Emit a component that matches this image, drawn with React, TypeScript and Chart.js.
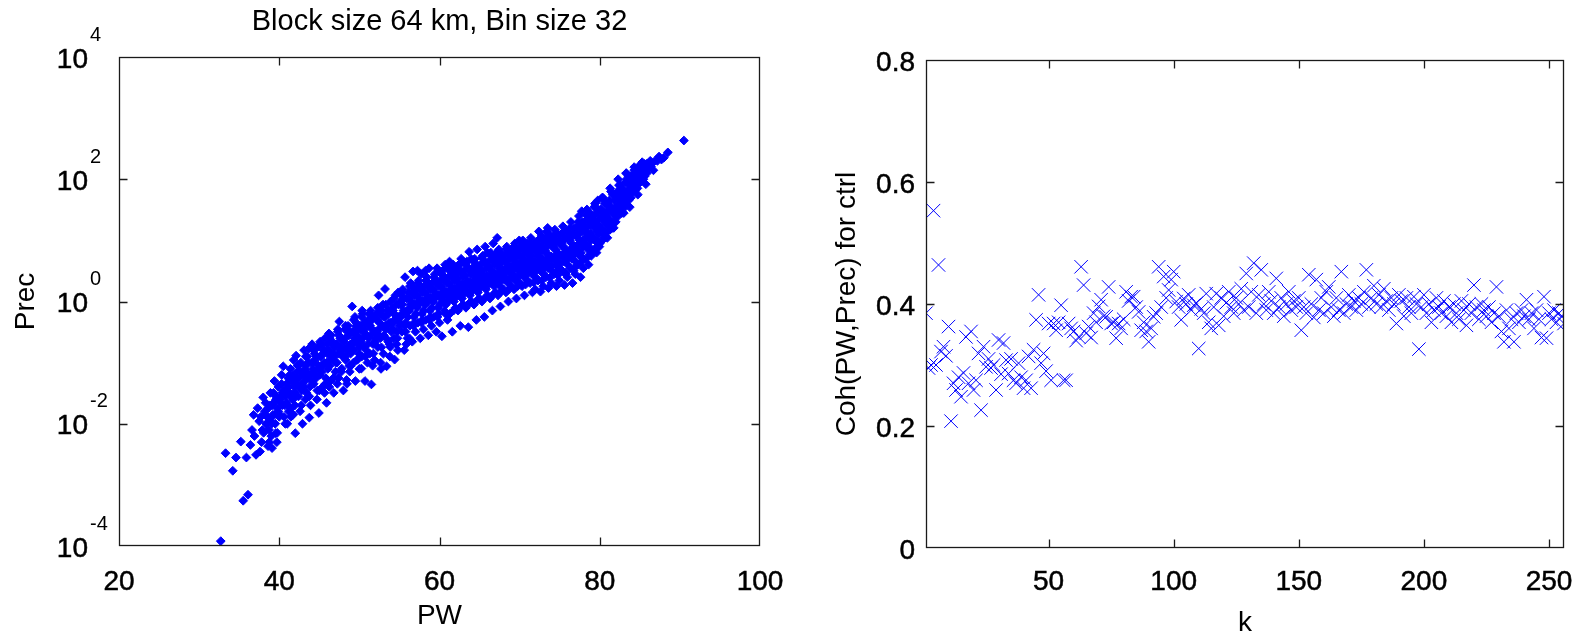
import React, { useEffect, useRef } from 'react';
import { Chart, registerables } from 'chart.js';

Chart.register(...registerables);

const FONT = '"Liberation Sans", Arial, Helvetica, sans-serif';
const BLUE = '#0000ff';
const AXIS_COLOR = '#1a1a1a';

const titleText = 'Block size 64 km, Bin size 32';
const pwTicks = [20, 40, 60, 80, 100];
const precTickValues = [1e-4, 1e-2, 1, 1e2, 1e4];
const precTickExponents = ['-4', '-2', '0', '2', '4'];
const kTicks = [50, 100, 150, 200, 250];
const cohTicks = [0, 0.2, 0.4, 0.6, 0.8];

// [PW, Prec] pairs (edges and spread of the cloud)
const scatterPoints: [number, number][] = [
  [32.7, 1.2e-4], [33.3, 3.3e-3], [34.2, 1.7e-3], [34.6, 2.8e-3], [35.2, 5.1e-3], [35.5, 5.5e-4], [36.1, 6.9e-4],
  [35.9, 2.8e-3], [36.4, 4.5e-3], [36.8, 1.4e-2], [36.6, 7.9e-3], [37.1, 3.1e-3], [36.9, 6.3e-3], [37.3, 1.8e-2],
  [37.5, 1.1e-2], [37.8, 5e-3], [37.6, 3.5e-3], [38.0, 2.7e-2], [37.9, 7.9e-3], [38.2, 1.6e-2], [37.7, 1.3e-2],
  [38.4, 1e-2], [38.6, 4.3e-3], [38.8, 2e-2], [38.5, 1.3e-2], [39.0, 6.3e-3], [38.9, 3.2e-2], [39.2, 1.4e-2], [38.7, 8e-3], [39.1, 4e-3],
  [39.4, 5e-2], [39.6, 2.8e-2], [39.5, 1e-2], [39.8, 1.8e-2], [40.0, 1.3e-2], [39.7, 5e-3], [40.1, 2.5e-2], [39.9, 4e-2], [39.3, 2.2e-2], [39.55, 7e-3],
  [40.3, 6.3e-2], [40.5, 8.7e-2], [40.4, 3.2e-2], [40.7, 2e-2], [40.9, 4.5e-2], [41.0, 1e-2], [40.6, 1.3e-2], [41.1, 5.6e-2], [40.8, 2.8e-2], [41.2, 1.6e-2], [40.2, 2.2e-2], [40.95, 3.5e-2],
  [41.3, 3.2e-2], [41.4, 7.9e-2], [41.5, 1.8e-2], [41.6, 5e-2], [41.7, 2.5e-2], [41.8, 1.1e-1], [41.9, 4e-2], [42.0, 7e-3], [41.45, 1.3e-2], [41.75, 6.3e-2], [41.95, 2e-2],
  [42.1, 1.3e-1], [42.2, 4.5e-2], [42.3, 7.1e-2], [42.4, 2.8e-2], [42.5, 5.6e-2], [42.6, 1.6e-2], [42.7, 1e-1], [42.8, 3.5e-2], [42.9, 1e-2], [42.35, 8.9e-2], [42.65, 4e-2], [42.95, 6.3e-2],
  [43.1, 1.6e-1], [43.2, 5e-2], [43.3, 8.9e-2], [43.4, 3.2e-2], [43.5, 1.26e-1], [43.6, 6.3e-2], [43.7, 1.7e-1], [43.8, 4e-2], [43.9, 2e-2], [44.0, 1e-1], [43.45, 7.1e-2], [43.75, 1.26e-2], [43.25, 2.5e-2],
  [44.1, 2e-1], [44.2, 7.9e-2], [44.3, 4.5e-2], [44.4, 1.4e-1], [44.5, 1.1e-1], [44.6, 5.6e-2], [44.7, 2.5e-2], [44.8, 1.8e-1], [44.9, 8.9e-2], [45.0, 3.5e-2], [44.35, 6.3e-2], [44.65, 1.26e-1], [44.95, 1.5e-2],
  [45.1, 2.2e-1], [45.2, 1.3e-1], [45.3, 7.1e-2], [45.4, 4e-2], [45.5, 1.6e-1], [45.6, 1e-1], [45.7, 2.5e-1], [45.8, 5.6e-2], [45.9, 2.2e-2], [46.0, 1.4e-1], [45.35, 8.9e-2], [45.65, 3.2e-2], [45.95, 2e-1],
  [46.1, 1.6e-1], [46.2, 3e-1], [46.3, 8.9e-2], [46.4, 5e-2], [46.5, 1.26e-1], [46.6, 2.2e-1], [46.7, 1.1e-1], [46.8, 3.2e-2], [46.9, 1.8e-1], [47.0, 7.1e-2], [46.45, 2.8e-1], [46.75, 1.4e-1], [46.25, 4e-2],
  [47.1, 2e-1], [47.2, 1e-1], [47.3, 3.5e-1], [47.4, 5.6e-2], [47.5, 4.7e-1], [47.6, 1.6e-1], [47.7, 2.5e-1], [47.8, 8e-2], [47.9, 1.26e-1], [48.0, 3.5e-2], [47.45, 2.8e-1], [47.75, 1.8e-1], [47.25, 4.5e-2],
  [48.1, 2.2e-1], [48.2, 3.5e-1], [48.3, 1.1e-1], [48.4, 5.2e-2], [48.5, 1.6e-1], [48.6, 4e-1], [48.7, 2.8e-1], [48.8, 7.1e-2], [48.9, 1.4e-1], [49.0, 2e-1], [48.45, 4.5e-2], [48.75, 3.2e-1], [48.25, 1.26e-1], [48.95, 8.9e-2],
  [49.1, 8.3e-1], [49.2, 3.2e-1], [49.3, 1.6e-1], [49.4, 2.5e-1], [49.5, 5e-2], [49.6, 4.5e-1], [49.7, 1.1e-1], [49.8, 2e-1], [49.9, 3.5e-1], [50.0, 7.9e-2], [49.45, 5.6e-1], [49.75, 2.8e-1], [49.25, 1e-1], [49.95, 1.4e-1],
  [50.1, 4e-1], [50.2, 2.2e-1], [50.3, 1.26e-1], [50.4, 6.3e-1], [50.5, 3.2e-1], [50.6, 1.8e-1], [50.7, 5e-2], [50.8, 4.5e-1], [50.9, 2.8e-1], [51.0, 1e-1], [50.35, 7.1e-1], [50.65, 3.5e-1], [50.25, 8e-2], [50.85, 1.6e-1],
  [51.1, 5e-1], [51.2, 2.5e-1], [51.3, 1.4e-1], [51.4, 7.1e-1], [51.5, 4.4e-2], [51.6, 3.5e-1], [51.7, 2e-1], [51.8, 5.6e-1], [51.9, 1.1e-1], [52.0, 3.2e-1], [51.35, 4e-1], [51.65, 8.9e-2], [51.25, 6.3e-1], [51.95, 2.2e-1],
  [52.1, 6.3e-1], [52.2, 3.2e-1], [52.3, 1.8e-1], [52.4, 1.26], [52.5, 4.5e-1], [52.6, 2.5e-1], [52.7, 7.9e-2], [52.8, 7.1e-1], [52.9, 4e-1], [53.0, 1.4e-1], [52.35, 5e-1], [52.65, 1e-1], [52.45, 2.8e-1], [52.95, 8.9e-1],
  [53.1, 5.6e-1], [53.2, 1.6], [53.3, 3.5e-1], [53.4, 8.7e-2], [53.5, 7.1e-1], [53.6, 2.2e-1], [53.7, 4.5e-1], [53.8, 1.26e-1], [53.9, 1], [54.0, 3.2e-1], [53.35, 2.5e-1], [53.65, 6.3e-1], [53.85, 1.8e-1], [53.25, 4e-1],
  [54.1, 7.9e-1], [54.2, 4.5e-1], [54.3, 2.5e-1], [54.4, 1.12e-1], [54.5, 1.26], [54.6, 5.6e-1], [54.7, 3.2e-1], [54.8, 1.6e-1], [54.9, 8.9e-1], [55.0, 4e-1], [54.35, 6.3e-1], [54.65, 2e-1], [54.85, 1.41], [54.25, 3.5e-1],
  [55.1, 1], [55.2, 5.6e-1], [55.3, 3.2e-1], [55.4, 1.58], [55.5, 7.1e-1], [55.6, 1.6e-1], [55.7, 2.5], [55.8, 4.5e-1], [55.9, 1.12], [56.0, 2.5e-1], [55.35, 8.9e-1], [55.65, 4e-1], [55.85, 2e-1], [55.25, 1.26],
  [56.1, 1.41], [56.2, 7.1e-1], [56.3, 4e-1], [56.4, 2], [56.5, 1], [56.6, 2.2e-1], [56.7, 3.1], [56.8, 5.6e-1], [56.9, 1.26], [57.0, 3.2e-1], [56.35, 8.9e-1], [56.65, 1.78], [56.85, 4.5e-1], [56.25, 2.5e-1],
  [57.1, 1.58], [57.2, 8e-1], [57.3, 4.5e-1], [57.4, 2.2], [57.5, 1.12], [57.6, 2.5e-1], [57.7, 2.8], [57.8, 6.3e-1], [57.9, 1.41], [58.0, 3.5e-1], [57.35, 1], [57.65, 1.78], [57.85, 5e-1], [57.25, 3.2],
  [58.1, 1.78], [58.2, 8.9e-1], [58.3, 5e-1], [58.4, 2.5], [58.5, 1.26], [58.6, 2.8e-1], [58.7, 3.5], [58.8, 7.1e-1], [58.9, 1.58], [59.0, 4e-1], [58.35, 1.12], [58.65, 2], [58.85, 5.6e-1], [58.25, 3.2], [58.55, 1],
  [59.1, 2], [59.2, 1], [59.3, 5.6e-1], [59.4, 2.8], [59.5, 1.41], [59.6, 3.2e-1], [59.7, 3.5], [59.8, 7.9e-1], [59.9, 1.78], [60.0, 4.5e-1], [59.35, 1.26], [59.65, 2.2], [59.85, 6.3e-1], [59.25, 1.12], [59.95, 3.2],
  [60.1, 2.2], [60.2, 1.12], [60.3, 2.7e-1], [60.4, 3.2], [60.5, 1.58], [60.6, 7.1e-1], [60.7, 4], [60.8, 8.9e-1], [60.9, 2], [61.0, 5e-1], [60.35, 1.41], [60.65, 2.5], [60.85, 1.26], [60.25, 2.8], [60.55, 1], [60.95, 3.5],
  [61.1, 2.5], [61.2, 1.26], [61.3, 6.3e-1], [61.4, 3.5], [61.5, 1.78], [61.6, 3.2e-1], [61.7, 4], [61.8, 1], [61.9, 2.2], [62.0, 7.9e-1], [61.35, 1.58], [61.65, 2.8], [61.85, 1.41], [61.25, 4.5], [61.55, 1.12], [61.95, 3.2],
  [62.1, 2.8], [62.2, 1.41], [62.3, 7.1e-1], [62.4, 4], [62.5, 2], [62.6, 4e-1], [62.7, 5], [62.8, 1.12], [62.9, 2.5], [63.0, 8.9e-1], [62.35, 1.78], [62.65, 3.2], [62.85, 1.58], [62.25, 3.5], [62.55, 1.26], [62.95, 4.5],
  [63.1, 3.2], [63.2, 1.58], [63.3, 7.9e-1], [63.4, 4.5], [63.5, 2.2], [63.6, 3.8e-1], [63.7, 6.5], [63.8, 1.26], [63.9, 2.8], [64.0, 1], [63.35, 2], [63.65, 3.5], [63.85, 1.78], [63.25, 4], [63.55, 1.41], [63.95, 5],
  [64.1, 3.5], [64.2, 1.78], [64.3, 8.9e-1], [64.4, 5], [64.5, 2.5], [64.6, 5e-1], [64.7, 7.1], [64.8, 1.41], [64.9, 3.2], [65.0, 1.12], [64.35, 2.2], [64.65, 4], [64.85, 2], [64.25, 4.5], [64.55, 1.58], [64.95, 2.8],
  [65.1, 4], [65.2, 2], [65.3, 1], [65.4, 5.6], [65.5, 2.8], [65.6, 5.6e-1], [65.7, 7.9], [65.8, 1.58], [65.9, 3.5], [66.0, 1.26], [65.35, 2.5], [65.65, 4.5], [65.85, 2.2], [65.25, 3.2], [65.55, 1.78], [65.95, 6.3],
  [66.1, 4.5], [66.2, 2.2], [66.3, 1.12], [66.4, 6.3], [66.5, 3.2], [66.6, 7.1e-1], [66.7, 8.9], [66.8, 1.78], [66.9, 4], [67.0, 1.41], [66.35, 2.8], [66.65, 5], [66.85, 2.5], [66.25, 3.5], [66.55, 2], [66.95, 5.6],
  [67.1, 5], [67.2, 11], [67.3, 1.26], [67.4, 7.1], [67.5, 3.5], [67.6, 8.3e-1], [67.7, 2.2], [67.8, 4.5], [67.9, 2.8], [68.0, 1.58], [67.35, 4], [67.65, 6.3], [67.85, 3.2], [67.25, 2.5], [67.55, 1.78], [67.95, 5.6],
  [68.1, 5.6], [68.2, 2.5], [68.3, 1.41], [68.4, 7.9], [68.5, 4], [68.6, 1], [68.7, 3.2], [68.8, 6.3], [68.9, 2.8], [69.0, 1.78], [68.35, 4.5], [68.65, 2.2], [68.85, 5], [68.25, 3.5], [68.55, 2], [68.95, 7.1],
  [69.1, 6.3], [69.2, 2.8], [69.3, 1.58], [69.4, 8.9], [69.5, 4.5], [69.6, 1.12], [69.7, 3.5], [69.8, 7.1], [69.9, 3.2], [70.0, 2], [69.35, 5], [69.65, 2.5], [69.85, 5.6], [69.25, 4], [69.55, 2.2], [69.95, 10],
  [70.1, 7.1], [70.2, 3.2], [70.3, 1.78], [70.4, 10], [70.5, 5], [70.6, 1.26], [70.7, 4], [70.8, 7.9], [70.9, 3.5], [71.0, 2.2], [70.35, 5.6], [70.65, 2.8], [70.85, 6.3], [70.25, 4.5], [70.55, 2.5], [70.95, 8.9],
  [71.1, 7.9], [71.2, 3.5], [71.3, 2], [71.4, 11], [71.5, 5.6], [71.6, 1.41], [71.7, 4.5], [71.8, 8.9], [71.9, 4], [72.0, 2.5], [71.35, 6.3], [71.65, 3.2], [71.85, 7.1], [71.25, 5], [71.55, 2.8], [71.95, 1.58],
  [72.1, 8.9], [72.2, 4], [72.3, 2.2], [72.4, 14], [72.5, 6.3], [72.6, 1.45], [72.7, 5], [72.8, 10], [72.9, 4.5], [73.0, 2.8], [72.35, 7.1], [72.65, 3.5], [72.85, 7.9], [72.25, 5.6], [72.55, 3.2], [72.95, 1.78], [72.75, 12],
  [73.1, 10], [73.2, 4.5], [73.3, 2.5], [73.4, 14], [73.5, 16], [73.6, 1.66], [73.7, 5.6], [73.8, 11], [73.9, 5], [74.0, 3.2], [73.35, 7.9], [73.65, 4], [73.85, 8.9], [73.25, 6.3], [73.55, 3.5], [73.95, 2], [73.75, 12.5],
  [74.1, 11], [74.2, 5], [74.3, 2.8], [74.4, 15], [74.5, 7.1], [74.6, 1.78], [74.7, 6.3], [74.8, 12.5], [74.9, 5.6], [75.0, 3.5], [74.35, 8.9], [74.65, 4.5], [74.85, 10], [74.25, 7.9], [74.55, 4], [74.95, 2.2], [74.75, 3.2],
  [75.1, 12.5], [75.2, 5.6], [75.3, 3.2], [75.4, 17], [75.5, 7.9], [75.6, 1.86], [75.7, 7.1], [75.8, 14], [75.9, 6.3], [76.0, 4], [75.35, 10], [75.65, 5], [75.85, 11], [75.25, 8.9], [75.55, 4.5], [75.95, 2.5], [75.75, 2.8],
  [76.1, 14], [76.2, 6.3], [76.3, 3.5], [76.4, 20], [76.5, 8.9], [76.6, 2], [76.7, 7.9], [76.8, 16], [76.9, 7.1], [77.0, 4.5], [76.35, 11], [76.65, 5.6], [76.85, 12.5], [76.25, 10], [76.55, 5], [76.95, 2.8], [76.75, 3.2],
  [77.1, 16], [77.2, 7.1], [77.3, 4], [77.4, 25], [77.5, 10], [77.6, 2.5], [77.7, 8.9], [77.8, 20], [77.9, 7.9], [78.0, 5], [77.35, 12.5], [77.65, 6.3], [77.85, 14], [77.25, 11], [77.55, 5.6], [77.95, 3.5], [77.75, 30],
  [78.1, 20], [78.2, 8.9], [78.3, 5], [78.4, 32], [78.5, 12.5], [78.6, 4], [78.7, 11], [78.8, 25], [78.9, 10], [79.0, 6.3], [78.35, 16], [78.65, 7.9], [78.85, 18], [78.25, 14], [78.55, 7.1], [78.95, 5.6], [78.75, 28],
  [79.1, 25], [79.2, 11], [79.3, 7.1], [79.4, 40], [79.5, 16], [79.6, 6.3], [79.7, 14], [79.8, 32], [79.9, 12.5], [80.0, 8.9], [79.35, 20], [79.65, 10], [79.85, 22], [79.25, 18], [79.55, 9.5], [79.95, 7.9], [79.75, 45],
  [80.1, 32], [80.2, 16], [80.3, 10], [80.4, 50], [80.5, 22], [80.6, 11], [80.7, 20], [80.8, 40], [80.9, 18], [81.0, 14], [80.35, 28], [80.65, 14], [80.85, 30], [80.25, 25], [80.55, 12.5], [80.95, 11],
  [81.1, 40], [81.2, 22], [81.3, 15], [81.4, 63], [81.5, 32], [81.6, 16], [81.7, 28], [81.8, 56], [81.9, 25], [82.0, 20], [81.35, 35], [81.65, 20], [81.85, 45], [81.25, 30], [81.55, 18], [81.95, 32],
  [82.1, 50], [82.2, 28], [82.3, 25], [82.4, 80], [82.5, 40], [82.6, 32], [82.7, 63], [82.8, 45], [82.9, 36], [83.0, 28], [82.35, 56], [82.65, 40], [82.85, 70], [82.25, 35],
  [83.1, 63], [83.2, 40], [83.3, 125], [83.4, 90], [83.5, 56], [83.6, 45], [83.7, 80], [83.8, 63], [83.9, 50], [84.0, 71], [83.35, 100], [83.65, 56], [83.85, 112], [83.25, 36],
  [84.1, 90], [84.2, 63], [84.3, 140], [84.4, 112], [84.5, 80], [84.6, 100], [84.7, 71], [84.8, 160], [84.9, 112], [85.0, 90], [84.35, 80], [84.65, 125],
  [85.1, 140], [85.2, 100], [85.3, 180], [85.4, 125], [85.5, 160], [85.6, 112], [85.8, 140], [85.9, 180], [85.45, 100],
  [86.1, 160], [86.3, 200], [86.5, 180], [86.7, 140], [86.9, 200], [86.4, 160],
  [87.2, 200], [87.4, 235], [87.7, 210], [88.0, 225], [88.5, 275],
  [90.5, 430],
];

// [PW, Prec] pairs of the dense core of the cloud
const scatterCore: [number, number][] = [
  [38.05, 7.1e-3], [38.2, 1.41e-2], [38.3, 2.2e-2], [38.4, 1e-2], [38.6, 1.78e-2], [38.75, 5e-3], [38.9, 1.12e-2],
  [39.05, 1e-2], [39.2, 2e-2], [39.3, 3.2e-2], [39.4, 1.41e-2], [39.6, 2.5e-2], [39.75, 7.1e-3], [39.9, 1.58e-2],
  [40.05, 1.41e-2], [40.2, 2.8e-2], [40.3, 4.5e-2], [40.4, 2e-2], [40.6, 3.5e-2], [40.75, 1e-2], [40.9, 2.2e-2],
  [41.05, 2e-2], [41.2, 4e-2], [41.3, 6.3e-2], [41.4, 2.8e-2], [41.6, 5e-2], [41.75, 1.41e-2], [41.9, 3.2e-2],
  [42.05, 2.8e-2], [42.2, 5.6e-2], [42.3, 8.9e-2], [42.4, 4e-2], [42.6, 7.1e-2], [42.75, 2e-2], [42.9, 4.5e-2],
  [43.05, 4e-2], [43.2, 7.9e-2], [43.3, 1.26e-1], [43.4, 5.6e-2], [43.6, 1e-1], [43.75, 2.8e-2], [43.9, 6.3e-2],
  [44.05, 5e-2], [44.2, 1e-1], [44.3, 1.58e-1], [44.4, 7.1e-2], [44.6, 1.26e-1], [44.75, 3.5e-2], [44.9, 7.9e-2],
  [45.05, 6.3e-2], [45.2, 1.26e-1], [45.3, 2e-1], [45.4, 8.9e-2], [45.6, 1.58e-1], [45.75, 4.5e-2], [45.9, 1e-1],
  [46.05, 7.9e-2], [46.2, 1.58e-1], [46.3, 2.5e-1], [46.4, 1.12e-1], [46.6, 2e-1], [46.75, 5.6e-2], [46.9, 1.26e-1],
  [47.05, 1e-1], [47.2, 2e-1], [47.3, 3.2e-1], [47.4, 1.41e-1], [47.6, 2.5e-1], [47.75, 7.1e-2], [47.9, 1.58e-1],
  [48.05, 1.26e-1], [48.2, 2.5e-1], [48.3, 4e-1], [48.4, 1.78e-1], [48.6, 3.2e-1], [48.75, 8.9e-2], [48.9, 2e-1],
  [49.05, 1.58e-1], [49.2, 3.2e-1], [49.3, 5e-1], [49.4, 2.2e-1], [49.6, 4e-1], [49.75, 1.12e-1], [49.9, 2.5e-1],
  [50.05, 1.78e-1], [50.2, 3.5e-1], [50.3, 5.6e-1], [50.4, 2.5e-1], [50.6, 4.5e-1], [50.75, 1.26e-1], [50.9, 2.8e-1],
  [51.05, 2e-1], [51.2, 4e-1], [51.3, 6.3e-1], [51.4, 2.8e-1], [51.6, 5e-1], [51.75, 1.41e-1], [51.9, 3.2e-1],
  [52.05, 2.5e-1], [52.2, 5e-1], [52.3, 7.9e-1], [52.4, 3.5e-1], [52.6, 6.3e-1], [52.75, 1.78e-1], [52.9, 4e-1],
  [53.05, 2.8e-1], [53.2, 5.6e-1], [53.3, 8.9e-1], [53.4, 4e-1], [53.6, 7.1e-1], [53.75, 2e-1], [53.9, 4.5e-1],
  [54.05, 3.5e-1], [54.2, 7.1e-1], [54.3, 1.12], [54.4, 5e-1], [54.6, 8.9e-1], [54.75, 2.5e-1], [54.9, 5.6e-1],
  [55.05, 4.5e-1], [55.2, 8.9e-1], [55.3, 1.41], [55.4, 6.3e-1], [55.6, 1.12], [55.75, 3.2e-1], [55.9, 7.1e-1],
  [56.05, 5.6e-1], [56.2, 1.12], [56.3, 1.78], [56.4, 7.9e-1], [56.6, 1.41], [56.75, 4e-1], [56.9, 8.9e-1],
  [57.05, 6.3e-1], [57.2, 1.26], [57.3, 2], [57.4, 8.9e-1], [57.6, 1.58], [57.75, 4.5e-1], [57.9, 1],
  [58.05, 7.1e-1], [58.2, 1.41], [58.3, 2.2], [58.4, 1], [58.6, 1.78], [58.75, 5e-1], [58.9, 1.12],
  [59.05, 7.9e-1], [59.2, 1.58], [59.3, 2.5], [59.4, 1.12], [59.6, 2], [59.75, 5.6e-1], [59.9, 1.26],
  [60.05, 8.9e-1], [60.2, 1.78], [60.3, 2.8], [60.4, 1.26], [60.6, 2.2], [60.75, 6.3e-1], [60.9, 1.41],
  [61.05, 1], [61.2, 2], [61.3, 3.2], [61.4, 1.41], [61.6, 2.5], [61.75, 7.1e-1], [61.9, 1.58],
  [62.05, 1.2], [62.2, 2.4], [62.3, 3.8], [62.4, 1.7], [62.6, 3], [62.75, 8.5e-1], [62.9, 1.9],
  [63.05, 1.35], [63.2, 2.7], [63.3, 4.3], [63.4, 1.9], [63.6, 3.4], [63.75, 9.5e-1], [63.9, 2.1],
  [64.05, 1.5], [64.2, 3], [64.3, 4.8], [64.4, 2.1], [64.6, 3.8], [64.75, 1.07], [64.9, 2.4],
  [65.05, 1.66], [65.2, 3.3], [65.3, 5.2], [65.4, 2.3], [65.6, 4.2], [65.75, 1.17], [65.9, 2.6],
  [66.05, 1.86], [66.2, 3.7], [66.3, 5.9], [66.4, 2.6], [66.6, 4.7], [66.75, 1.32], [66.9, 2.95],
  [67.05, 2.1], [67.2, 4.2], [67.3, 6.6], [67.4, 2.95], [67.6, 5.2], [67.75, 1.48], [67.9, 3.3],
  [68.05, 2.3], [68.2, 4.6], [68.3, 7.2], [68.4, 3.2], [68.6, 5.8], [68.75, 1.62], [68.9, 3.6],
  [69.05, 2.5], [69.2, 5], [69.3, 7.9], [69.4, 3.5], [69.6, 6.3], [69.75, 1.78], [69.9, 4],
  [70.05, 2.7], [70.2, 5.4], [70.3, 8.5], [70.4, 3.8], [70.6, 6.8], [70.75, 1.9], [70.9, 4.3],
  [71.05, 2.9], [71.2, 5.8], [71.3, 9.1], [71.4, 4.1], [71.6, 7.2], [71.75, 2.05], [71.9, 4.6],
  [72.05, 3.2], [72.2, 6.3], [72.3, 10], [72.4, 4.5], [72.6, 7.9], [72.75, 2.2], [72.9, 5],
  [73.05, 3.5], [73.2, 6.9], [73.3, 11], [73.4, 4.9], [73.6, 8.7], [73.75, 2.45], [73.9, 5.5],
  [74.05, 3.8], [74.2, 7.6], [74.3, 12], [74.4, 5.4], [74.6, 9.5], [74.75, 2.7], [74.9, 6],
  [75.05, 4.2], [75.2, 8.3], [75.3, 13], [75.4, 5.9], [75.6, 10.5], [75.75, 2.95], [75.9, 6.6],
  [76.05, 5], [76.2, 10], [76.3, 16], [76.4, 7.1], [76.6, 12.6], [76.75, 3.5], [76.9, 7.9],
  [77.05, 6.3], [77.2, 12.6], [77.3, 20], [77.4, 8.9], [77.6, 16], [77.75, 4.5], [77.9, 10],
  [78.05, 8.3], [78.2, 16.6], [78.3, 26], [78.4, 11.7], [78.6, 21], [78.75, 5.9], [78.9, 13],
  [79.05, 11.2], [79.2, 22], [79.3, 35], [79.4, 16], [79.6, 28], [79.75, 7.9], [79.9, 17.8],
  [80.05, 16], [80.2, 32], [80.3, 50], [80.4, 22], [80.6, 40], [80.75, 11.2], [80.9, 25],
  [81.05, 22], [81.2, 45], [81.3, 71], [81.4, 32], [81.6, 56], [81.75, 16], [81.9, 35],
  [82.05, 32], [82.2, 63], [82.3, 100], [82.4, 45], [82.6, 79], [82.75, 28], [82.9, 50],
  [83.05, 45], [83.2, 89], [83.3, 126], [83.4, 63], [83.6, 112], [83.75, 35], [83.9, 71],
  [84.05, 63], [84.2, 120], [84.3, 158], [84.4, 85], [84.6, 141], [84.75, 56], [84.9, 95],
  [85.05, 89], [85.2, 158], [85.3, 190], [85.4, 112], [85.6, 178], [85.75, 83], [85.9, 126],
];

// Coherence values for k = 1 .. 256 (right panel)
const cohValues: number[] = [
  0.385, 0.295, 0.300, 0.553, 0.300, 0.464, 0.322, 0.330, 0.315, 0.363,
  0.208, 0.270, 0.259, 0.280, 0.248, 0.287, 0.346, 0.270, 0.355, 0.259,
  0.275, 0.319, 0.226, 0.330, 0.297, 0.310, 0.295, 0.300, 0.259, 0.341,
  0.285, 0.336, 0.308, 0.286, 0.310, 0.275, 0.270, 0.303, 0.280, 0.262,
  0.275, 0.314, 0.262, 0.325, 0.374, 0.415, 0.303, 0.319, 0.290, 0.368,
  0.275, 0.368, 0.357, 0.370, 0.398, 0.275, 0.275, 0.368, 0.360, 0.355,
  0.340, 0.346, 0.461, 0.431, 0.352, 0.363, 0.345, 0.385, 0.370, 0.396,
  0.407, 0.380, 0.379, 0.428, 0.368, 0.370, 0.344, 0.368, 0.360, 0.375,
  0.420, 0.405, 0.412, 0.412, 0.395, 0.387, 0.357, 0.370, 0.355, 0.338,
  0.360, 0.379, 0.385, 0.461, 0.395, 0.445, 0.410, 0.423, 0.440, 0.453,
  0.404, 0.395, 0.374, 0.409, 0.400, 0.415, 0.390, 0.398, 0.401, 0.327,
  0.392, 0.385, 0.417, 0.370, 0.360, 0.395, 0.417, 0.365, 0.410, 0.380,
  0.402, 0.420, 0.395, 0.385, 0.410, 0.400, 0.425, 0.390, 0.450, 0.395,
  0.420, 0.467, 0.385, 0.415, 0.456, 0.400, 0.390, 0.420, 0.405, 0.385,
  0.442, 0.395, 0.410, 0.380, 0.400, 0.420, 0.390, 0.405, 0.395, 0.410,
  0.357, 0.395, 0.385, 0.448, 0.400, 0.378, 0.440, 0.390, 0.410, 0.385,
  0.420, 0.428, 0.395, 0.380, 0.410, 0.390, 0.453, 0.385, 0.400, 0.415,
  0.395, 0.405, 0.390, 0.410, 0.400, 0.420, 0.456, 0.395, 0.410, 0.430,
  0.400, 0.415, 0.395, 0.425, 0.405, 0.390, 0.410, 0.400, 0.368, 0.415,
  0.405, 0.380, 0.410, 0.395, 0.385, 0.412, 0.400, 0.326, 0.395, 0.415,
  0.385, 0.400, 0.370, 0.390, 0.410, 0.395, 0.385, 0.405, 0.380, 0.395,
  0.370, 0.400, 0.385, 0.375, 0.405, 0.390, 0.365, 0.400, 0.385, 0.431,
  0.395, 0.375, 0.400, 0.390, 0.380, 0.395, 0.370, 0.385, 0.428, 0.380,
  0.355, 0.338, 0.390, 0.360, 0.375, 0.338, 0.385, 0.370, 0.390, 0.380,
  0.407, 0.375, 0.385, 0.360, 0.390, 0.375, 0.345, 0.412, 0.344, 0.385,
  0.375, 0.390, 0.370, 0.385, 0.380, 0.368,
];

const font = (size: number) => ({ family: FONT, size, weight: 'normal' as const, lineHeight: 1.2 });

const matlabBox = {
  id: 'matlabBox',
  afterDatasetsDraw(chart: any, _args: any, opts: any) {
    const { ctx, chartArea: a, scales } = chart;
    ctx.save();
    ctx.strokeStyle = AXIS_COLOR;
    ctx.lineWidth = 1.3;
    const L = Math.round(a.left) + 0.5;
    const R = Math.round(a.right) - 0.5;
    const T = Math.round(a.top) + 0.5;
    const B = Math.round(a.bottom) - 0.5;
    ctx.strokeRect(L, T, R - L, B - T);
    const len = 8;
    ctx.beginPath();
    for (const t of scales.x.ticks) {
      const px = Math.round(scales.x.getPixelForValue(t.value)) + 0.5;
      if (px <= L + 1 || px >= R - 1) continue;
      ctx.moveTo(px, B); ctx.lineTo(px, B - len);
      ctx.moveTo(px, T); ctx.lineTo(px, T + len);
    }
    for (const t of scales.y.ticks) {
      const py = Math.round(scales.y.getPixelForValue(t.value)) + 0.5;
      if (py <= T + 1 || py >= B - 1) continue;
      ctx.moveTo(L, py); ctx.lineTo(L + len, py);
      ctx.moveTo(R, py); ctx.lineTo(R - len, py);
    }
    ctx.stroke();
    if (opts && opts.exponents) {
      ctx.fillStyle = '#000';
      ctx.font = `20px ${FONT}`;
      ctx.textAlign = 'left';
      ctx.textBaseline = 'middle';
      scales.y.ticks.forEach((t: any) => {
        const idx = precTickValues.indexOf(t.value);
        if (idx < 0) return;
        const py = scales.y.getPixelForValue(t.value);
        ctx.fillText(precTickExponents[idx], a.left - 29, py - 22);
      });
    }
    ctx.restore();
  },
};

function useChart(ref: React.RefObject<HTMLCanvasElement | null>, make: (c: HTMLCanvasElement) => Chart) {
  useEffect(() => {
    if (!ref.current) return;
    const chart = make(ref.current);
    return () => chart.destroy();
  }, []);
}

export default function App() {
  const leftRef = useRef<HTMLCanvasElement>(null);
  const rightRef = useRef<HTMLCanvasElement>(null);

  useChart(leftRef, (canvas) =>
    new Chart(canvas, {
      type: 'scatter',
      data: {
        datasets: [
          {
            data: [...scatterPoints, ...scatterCore].map(([x, y]) => ({ x, y })),
            pointStyle: 'rectRot',
            pointRadius: 4.4,
            pointBackgroundColor: BLUE,
            pointBorderColor: BLUE,
            pointBorderWidth: 1,
            showLine: false,
          },
        ],
      },
      options: {
        animation: false,
        responsive: false,
        events: [],
        layout: { padding: { left: 0, right: 30, top: 0, bottom: 0 } },
        plugins: {
          legend: { display: false },
          tooltip: { enabled: false },
          title: {
            display: true,
            text: titleText,
            fullSize: false,
            color: '#000',
            font: font(29),
            padding: { top: 5, bottom: 17.2 },
          },
          matlabBox: { exponents: true },
        } as any,
        scales: {
          x: {
            type: 'linear',
            min: 20,
            max: 100,
            afterBuildTicks: (s: any) => { s.ticks = pwTicks.map((v) => ({ value: v })); },
            afterFit: (s: any) => { s.height = 91; s.paddingLeft = 0; s.paddingRight = 0; },
            grid: { display: false, drawTicks: false },
            border: { display: false },
            ticks: { color: '#000', font: font(28), padding: 19, maxRotation: 0, autoSkip: false, textStrokeColor: '#000', textStrokeWidth: 0.5 },
            title: { display: true, text: 'PW', color: '#000', font: font(28), padding: { top: 0, bottom: 4 } },
          },
          y: {
            type: 'logarithmic',
            min: 1e-4,
            max: 1e4,
            afterBuildTicks: (s: any) => { s.ticks = precTickValues.map((v) => ({ value: v })); },
            afterFit: (s: any) => { s.width = 119; s.paddingTop = 0; s.paddingBottom = 0; },
            grid: { display: false, drawTicks: false },
            border: { display: false },
            ticks: { color: '#000', font: font(28), padding: 31, labelOffset: 3, autoSkip: false, callback: () => '10', textStrokeColor: '#000', textStrokeWidth: 0.5 },
            title: { display: true, text: 'Prec', color: '#000', font: font(28), padding: { top: 9, bottom: 0 } },
          },
        },
      } as any,
      plugins: [matlabBox],
    })
  );

  useChart(rightRef, (canvas) =>
    new Chart(canvas, {
      type: 'scatter',
      data: {
        datasets: [
          {
            data: cohValues.map((v, i) => ({ x: i + 1, y: v })),
            pointStyle: 'crossRot',
            pointRadius: 9.5,
            pointBorderColor: BLUE,
            pointBackgroundColor: BLUE,
            pointBorderWidth: 1,
            showLine: false,
          },
        ],
      },
      options: {
        animation: false,
        responsive: false,
        events: [],
        layout: { padding: { left: 0, right: 12, top: 60, bottom: 0 } },
        plugins: {
          legend: { display: false },
          tooltip: { enabled: false },
          title: { display: false },
          matlabBox: {},
        } as any,
        scales: {
          x: {
            type: 'linear',
            min: 1,
            max: 256,
            afterBuildTicks: (s: any) => { s.ticks = kTicks.map((v) => ({ value: v })); },
            afterFit: (s: any) => { s.height = 89; s.paddingLeft = 0; s.paddingRight = 0; },
            grid: { display: false, drawTicks: false },
            border: { display: false },
            ticks: { color: '#000', font: font(28), padding: 17, maxRotation: 0, autoSkip: false, textStrokeColor: '#000', textStrokeWidth: 0.5 },
            title: { display: true, text: 'k', color: '#000', font: font(28), padding: { top: 0, bottom: -3 } },
          },
          y: {
            type: 'linear',
            min: 0,
            max: 0.8,
            afterBuildTicks: (s: any) => { s.ticks = cohTicks.map((v) => ({ value: v })); },
            afterFit: (s: any) => { s.width = 136; s.paddingTop = 0; s.paddingBottom = 0; },
            grid: { display: false, drawTicks: false },
            border: { display: false },
            ticks: { color: '#000', font: font(28), padding: 11, labelOffset: 3, autoSkip: false, callback: (v: any) => String(v), textStrokeColor: '#000', textStrokeWidth: 0.5 },
            title: { display: true, text: 'Coh(PW,Prec) for ctrl', color: '#000', font: font(28), padding: { top: 40, bottom: 0 } },
          },
        },
      } as any,
      plugins: [matlabBox],
    })
  );

  return (
    <div style={{ position: 'absolute', left: 0, top: 0, width: 1576, height: 637, background: '#fff', overflow: 'hidden' }}>
      <canvas ref={leftRef} width={790} height={637} style={{ position: 'absolute', left: 0, top: 0, display: 'block' }} />
      <canvas ref={rightRef} width={786} height={637} style={{ position: 'absolute', left: 790, top: 0, display: 'block' }} />
    </div>
  );
}
